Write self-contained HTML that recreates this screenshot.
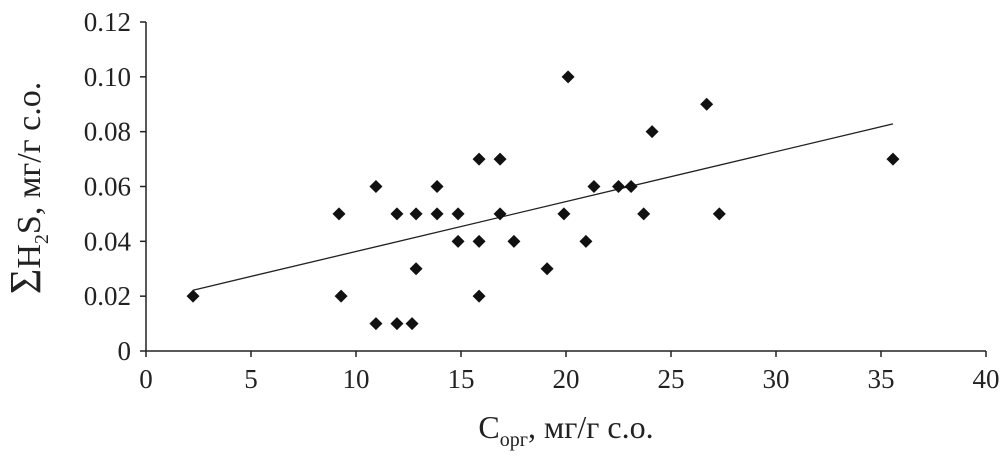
<!DOCTYPE html>
<html><head><meta charset="utf-8"><style>
html,body{margin:0;padding:0;background:#fff;}
svg text{font-family:"Liberation Serif",serif;fill:#222;}
</style></head><body>
<svg width="1005" height="452" viewBox="0 0 1005 452">
<g id="axes"></g>
<g id="marks"></g>
<text x="0" y="0" font-size="34" transform="translate(40,188) rotate(-90)" text-anchor="middle"><tspan font-size="44">Σ</tspan>H<tspan font-size="20" dy="8">2</tspan><tspan dy="-8">S, мг/г с.о.</tspan></text>
<text x="566" y="438" font-size="32" text-anchor="middle">C<tspan font-size="20" dy="8">орг</tspan><tspan dy="-8">, мг/г с.о.</tspan></text>
</svg>
<script>
const xValues=[2.24,9.19,9.29,10.95,10.95,11.95,11.95,12.67,12.86,12.86,13.86,13.86,14.86,14.86,15.86,15.86,15.86,16.86,16.86,17.52,19.1,19.9,20.1,20.95,21.33,22.5,23.1,23.7,24.1,26.7,27.3,35.57];
const yValues=[0.02,0.05,0.02,0.06,0.01,0.05,0.01,0.01,0.05,0.03,0.06,0.05,0.05,0.04,0.07,0.04,0.02,0.07,0.05,0.04,0.03,0.05,0.10,0.04,0.06,0.06,0.06,0.05,0.08,0.09,0.05,0.07];
const xTicks=[0,5,10,15,20,25,30,35,40];
const yTicks=[0,0.02,0.04,0.06,0.08,0.10,0.12];
const yTickLabels=["0","0.02","0.04","0.06","0.08","0.10","0.12"];
const trendSlope=0.00182, trendIntercept=0.0181;
const trendRange=[2.24,35.57];
const NS="http://www.w3.org/2000/svg";
const X=v=>146+v*21, Y=v=>351-v*(329/0.12);
function mk(tag,attrs,parent){const e=document.createElementNS(NS,tag);for(const k in attrs)e.setAttribute(k,attrs[k]);parent.appendChild(e);return e;}
const axes=document.getElementById('axes'), marks=document.getElementById('marks');
let l=mk('line',{x1:146,y1:Y(0.12),x2:146,y2:351,stroke:'#222','stroke-width':1.5},axes);


l=mk('line',{x1:146,y1:351,x2:X(40),y2:351,stroke:'#222','stroke-width':1.5},axes);


xTicks.forEach(t=>{
 const tk=mk('line',{x1:X(t),x2:X(t),y1:351,y2:357,stroke:'#222','stroke-width':1.5},axes);
 
 
 const tx=mk('text',{x:X(t),y:388,'font-size':27,'text-anchor':'middle'},axes);
 tx.textContent=String(t);
 
 
});
yTicks.forEach((t,i)=>{
 const tk=mk('line',{x1:140,x2:146,y1:Y(t),y2:Y(t),stroke:'#222','stroke-width':1.5},axes);
 
 
 const tx=mk('text',{x:131,y:Y(t)+9,'font-size':27,'text-anchor':'end'},axes);
 tx.textContent=yTickLabels[i];
 
 
});
const tl=mk('line',{x1:X(trendRange[0]),y1:Y(trendIntercept+trendSlope*trendRange[0]),x2:X(trendRange[1]),y2:Y(trendIntercept+trendSlope*trendRange[1]),stroke:'#222','stroke-width':1.3},marks);


xValues.forEach((xv,i)=>{
 const cx=X(xv), cy=Y(yValues[i]), r=6.5;
 const p=mk('polygon',{points:`${cx},${cy-r} ${cx+r},${cy} ${cx},${cy+r} ${cx-r},${cy}`,fill:'#111'},marks);
 
 
});
</script>
</body></html>
